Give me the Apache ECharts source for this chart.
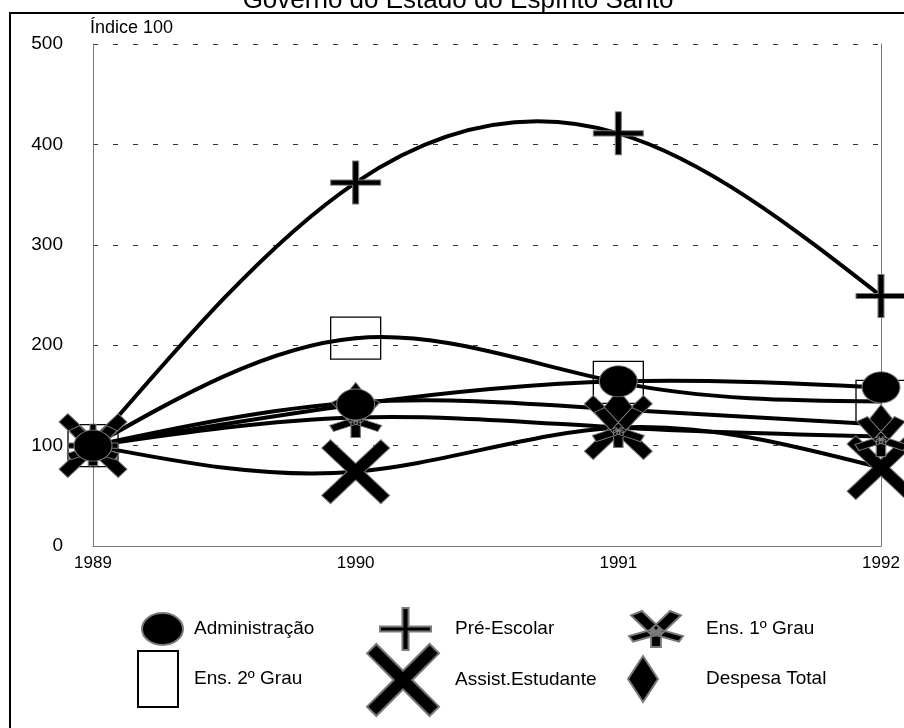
<!DOCTYPE html>
<html><head><meta charset="utf-8">
<script src="https://cdn.jsdelivr.net/npm/echarts@6/dist/echarts.min.js"></script>
<style>html,body{margin:0;padding:0;background:#fff}#c{width:904px;height:728px}</style>
</head><body><div id="c"></div>
<script>
// ---- data ----
const years = ['1989', '1990', '1991', '1992'];
const administracao = [100, 141, 164, 158];
const preEscolar = [100, 362, 411, 249];
const ens1Grau = [100, 128, 118, 109];
const ens2Grau = [100, 207, 163, 144];
const assistEstudante = [100, 74, 118, 78];
const despesaTotal = [100, 143, 136, 121];
const yTicks = [0, 100, 200, 300, 400, 500];
const names = ['Administração', 'Pré-Escolar', 'Ens. 1º Grau', 'Ens. 2º Grau', 'Assist.Estudante', 'Despesa Total'];
const titleText = 'Governo do Estado do Espírito Santo';
const yName = 'Índice 100';

// ---- symbol shapes ----
const FONT = '"Liberation Sans", Arial, sans-serif';
const ELLIPSE = 'path://M0,50A50,50,0,1,1,100,50A50,50,0,1,1,0,50Z';
const PLUS = 'path://M44,0H56V44H100V56H56V100H44V56H0V44H44Z';
const XMARK = 'path://M0,13L13,0L50,37L87,0L100,13L63,50L100,87L87,100L50,63L13,100L0,87L37,50Z';
function arm(cx, cy, tx, ty, h) {
  const dx = tx - cx, dy = ty - cy, L = Math.hypot(dx, dy);
  const nx = -dy / L * h, ny = dx / L * h;
  return 'M' + (cx + nx) + ',' + (cy + ny) + 'L' + (tx + nx) + ',' + (ty + ny) +
         'L' + (tx - nx) + ',' + (ty - ny) + 'L' + (cx - nx) + ',' + (cy - ny) + 'Z';
}
const AST = 'path://' + arm(50, 55, 14, 0, 12) + arm(50, 55, 86, 0, 12) +
  arm(50, 55, 4, 76, 9) + arm(50, 55, 96, 76, 9) + arm(50, 55, 50, 100, 9);

const blackItem = { color: '#000', borderColor: '#7a7a7a', borderWidth: 1, opacity: 1 };
const markers = [
  { data: administracao, symbol: ELLIPSE, size: [38, 31], item: blackItem, z: 10, lsize: [41, 32] },
  { data: preEscolar, symbol: PLUS, size: [50, 43], item: blackItem, z: 8, lsize: [51, 42] },
  { data: ens1Grau, symbol: AST, size: [52, 40], item: blackItem, z: 9, lsize: [54, 36] },
  { data: ens2Grau, symbol: 'rect', size: [50, 42], item: { color: 'rgba(255,255,255,0)', borderColor: '#000', borderWidth: 1.2, opacity: 1 }, z: 5, lsize: [40, 56] },
  { data: assistEstudante, symbol: XMARK, size: [68, 64], item: blackItem, z: 6, lsize: [72, 72] },
  { data: despesaTotal, symbol: 'diamond', size: [32, 40], item: blackItem, z: 7, lsize: [30, 46] }
];

// natural cubic spline second derivatives (unit spacing)
function splineM(y) {
  const n = y.length, M = new Array(n).fill(0);
  if (n < 3) return M;
  const m = n - 2, a = [], b = [], c = [], d = [];
  for (let i = 0; i < m; i++) {
    a.push(1); b.push(4); c.push(1);
    d.push(6 * (y[i] - 2 * y[i + 1] + y[i + 2]));
  }
  for (let i = 1; i < m; i++) {
    const w = a[i] / b[i - 1];
    b[i] -= w * c[i - 1]; d[i] -= w * d[i - 1];
  }
  const x = new Array(m);
  x[m - 1] = d[m - 1] / b[m - 1];
  for (let i = m - 2; i >= 0; i--) x[i] = (d[i] - c[i] * x[i + 1]) / b[i];
  for (let i = 0; i < m; i++) M[i + 1] = x[i];
  return M;
}
function curveRenderer(arr) {
  const M = splineM(arr);
  return function (params, api) {
    const i = params.dataIndex, n = arr.length;
    if (i >= n - 1) return null;
    const dy = arr[i + 1] - arr[i];
    const s0 = dy - (2 * M[i] + M[i + 1]) / 6;
    const s1 = dy + (M[i] + 2 * M[i + 1]) / 6;
    const p1 = api.coord([i, arr[i]]);
    const p2 = api.coord([i + 1, arr[i + 1]]);
    const c1y = api.coord([i, arr[i] + s0 / 3])[1];
    const c2y = api.coord([i + 1, arr[i + 1] - s1 / 3])[1];
    const dx = p2[0] - p1[0];
    return {
      type: 'bezierCurve',
      shape: { x1: p1[0], y1: p1[1], x2: p2[0], y2: p2[1], cpx1: p1[0] + dx / 3, cpy1: c1y, cpx2: p1[0] + 2 * dx / 3, cpy2: c2y },
      style: { fill: null, stroke: '#000', lineWidth: 4, lineCap: 'round' },
      silent: true
    };
  };
}

const series = [];
markers.forEach((m, i) => {
  series.push({
    name: names[i], type: 'scatter', data: m.data, symbol: m.symbol, symbolSize: m.size,
    itemStyle: m.item, z: m.z, silent: true, animation: false
  });
});
markers.forEach((m, i) => {
  series.push({
    name: names[i], type: 'custom', data: m.data.map((v, k) => [k, v]), encode: { x: 0, y: 1 },
    renderItem: curveRenderer(m.data), itemStyle: m.item, z: 2, clip: false, silent: true, animation: false
  });
});

// legend layout: [iconLeft, textLeft, centerY]
const legendPos = [
  [141, 193, 628], [379, 454, 628], [628, 705, 628],
  [137, 193, 678], [366, 454, 679], [627, 705, 678]
];
const icons = [ELLIPSE, PLUS, AST, 'rect', XMARK, 'diamond'];
const legends = names.map((n, i) => {
  const [w, h] = markers[i].lsize;
  const [l, t, cy] = legendPos[i];
  return {
    data: [{ name: n, icon: icons[i] }],
    left: l, top: cy - h / 2, padding: 0,
    itemWidth: w, itemHeight: h, symbolKeepAspect: false, selectedMode: false,
    textStyle: { fontSize: 19, fontFamily: FONT, color: '#000', padding: [0, 0, 0, Math.max(0, t - (l + w + 5))] }
  };
});

const chart = echarts.init(document.getElementById('c'), null, { renderer: 'canvas' });
chart.setOption({
  animation: false,
  backgroundColor: '#fff',
  grid: { left: 93, right: 23, top: 44, bottom: 182, containLabel: false },
  xAxis: {
    type: 'category', data: years, boundaryGap: false,
    axisLine: { show: true, lineStyle: { color: '#777', width: 1 } },
    axisTick: { show: false }, splitLine: { show: false },
    axisLabel: { fontSize: 17, fontFamily: FONT, color: '#000', margin: 9 }
  },
  yAxis: [{
    type: 'value', min: yTicks[0], max: yTicks[yTicks.length - 1], interval: yTicks[1] - yTicks[0],
    name: yName, nameLocation: 'end', nameGap: 16,
    nameTextStyle: { fontSize: 18, fontFamily: FONT, color: '#000', align: 'left', verticalAlign: 'middle', padding: [0, 0, 0, -3] },
    axisLine: { show: true, lineStyle: { color: '#777', width: 1 } },
    axisTick: { show: false },
    splitLine: { show: true, lineStyle: { color: '#333', width: 1, type: [5, 15] } },
    axisLabel: { fontSize: 19, fontFamily: FONT, color: '#000', margin: 30 }
  }, {
    type: 'value', position: 'right', min: yTicks[0], max: yTicks[yTicks.length - 1], interval: yTicks[1] - yTicks[0],
    axisLine: { show: true, lineStyle: { color: '#777', width: 1 } },
    axisTick: { show: false }, splitLine: { show: false }, axisLabel: { show: false }
  }],
  legend: legends,
  graphic: [
    { type: 'rect', shape: { x: 10, y: 13, width: 1000, height: 1000 }, style: { fill: 'none', stroke: '#000', lineWidth: 2 }, z: -1, silent: true },
    { type: 'text', x: 458, y: 1, style: { text: titleText, font: '26px ' + FONT, fill: '#000', align: 'center', verticalAlign: 'middle' }, silent: true }
  ],
  series: series
});
</script>
</body></html>
